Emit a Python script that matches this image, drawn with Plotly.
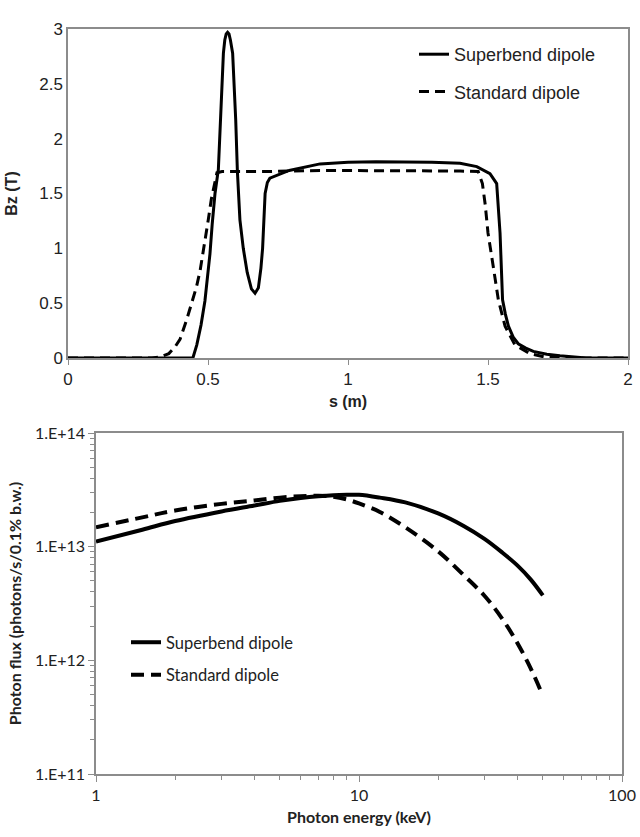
import plotly.graph_objects as go

# ---- Top panel: Bz along s ----
s_super = [0, 0.44, 0.446, 0.46, 0.475, 0.489, 0.50, 0.507, 0.515, 0.525, 0.537, 0.545, 0.555, 0.560,
           0.565, 0.570, 0.575, 0.580, 0.588, 0.599, 0.605, 0.614, 0.626, 0.64, 0.655, 0.668, 0.68,
           0.689, 0.695, 0.704, 0.712, 0.721, 0.75, 0.79, 0.9, 1.0, 1.1, 1.2, 1.3, 1.4, 1.46, 1.507,
           1.531, 1.543, 1.552, 1.562, 1.573, 1.59, 1.608, 1.635, 1.662, 1.71, 1.757, 1.85, 2.0]
bz_super = [0, 0, 0, 0.12, 0.3, 0.52, 0.75, 0.95, 1.22, 1.5, 1.72, 2.17, 2.78, 2.9,
            2.955, 2.97, 2.955, 2.9, 2.78, 2.17, 1.7, 1.26, 1.0, 0.78, 0.63, 0.59, 0.64,
            0.82, 1.0, 1.5, 1.6, 1.64, 1.67, 1.71, 1.77, 1.785, 1.79, 1.79, 1.785, 1.775, 1.745, 1.68,
            1.59, 1.14, 0.53, 0.4, 0.29, 0.19, 0.13, 0.09, 0.06, 0.035, 0.02, 0.0, 0.0]

s_std = [0, 0.30, 0.33, 0.36, 0.382, 0.40, 0.424, 0.44, 0.459, 0.472, 0.483, 0.492, 0.501, 0.512,
         0.525, 0.532, 0.55, 0.7, 0.9, 1.0, 1.2, 1.4, 1.465, 1.48, 1.49, 1.5, 1.519, 1.537, 1.561,
         1.596, 1.65, 1.70, 1.8, 2.0]
bz_std = [0, 0, 0.01, 0.04, 0.10, 0.17, 0.35, 0.48, 0.65, 0.8, 0.96, 1.1, 1.26, 1.45,
          1.62, 1.69, 1.70, 1.70, 1.71, 1.71, 1.71, 1.705, 1.70, 1.59, 1.4, 1.14, 0.83, 0.53, 0.29,
          0.12, 0.04, 0.01, 0, 0]

# ---- Bottom panel: photon flux vs energy ----
energy = [1, 1.5, 2, 3, 4, 5, 6, 7, 8, 9, 10, 12, 15, 20, 25, 30, 35, 40, 45, 50]
flux_super = [1.11e13, 1.41e13, 1.68e13, 2.04e13, 2.30e13, 2.53e13, 2.68e13, 2.78e13, 2.84e13,
              2.86e13, 2.86e13, 2.70e13, 2.45e13, 1.96e13, 1.52e13, 1.17e13, 8.9e12, 6.84e12,
              5.13e12, 3.73e12]
flux_std = [1.48e13, 1.81e13, 2.08e13, 2.38e13, 2.55e13, 2.70e13, 2.78e13, 2.80e13, 2.75e13,
            2.60e13, 2.40e13, 2.02e13, 1.48e13, 9.1e12, 5.62e12, 3.70e12, 2.33e12, 1.42e12,
            8.47e11, 4.89e11]

W, H = 640, 837
def px(x):
    return x / W
def py(y):
    return 1 - y / H

fig = go.Figure()
fig.add_trace(go.Scatter(x=s_super, y=bz_super, mode='lines', name='Superbend dipole',
                         line=dict(color='black', width=3), xaxis='x', yaxis='y',
                         legend='legend', legendgroup='a'))
fig.add_trace(go.Scatter(x=s_std, y=bz_std, mode='lines', name='Standard dipole',
                         line=dict(color='black', width=3, dash='10px,6px'), xaxis='x', yaxis='y',
                         legend='legend', legendgroup='b'))
fig.add_trace(go.Scatter(x=energy, y=flux_super, mode='lines', name='Superbend dipole',
                         line=dict(color='black', width=4, shape='spline', smoothing=1.0),
                         xaxis='x2', yaxis='y2', legend='legend2', legendgroup='c'))
fig.add_trace(go.Scatter(x=energy, y=flux_std, mode='lines', name='Standard dipole',
                         line=dict(color='black', width=4, shape='spline', smoothing=1.0, dash='13px,7px'),
                         xaxis='x2', yaxis='y2', legend='legend2', legendgroup='d'))

axcol = '#8c8c8c'
topfam = 'Liberation Sans, Arial, sans-serif'
botfam = 'Lato, Open Sans, sans-serif'
topfont = dict(family=topfam, size=17, color='#222')
botfont = dict(family=botfam, size=16, color='#222')

minor_x = [v * d for d in (1, 10) for v in range(2, 10)]
minor_y = [v * d for d in (1e11, 1e12, 1e13) for v in range(2, 10)]

fig.update_layout(
    width=W, height=H,
    margin=dict(l=0, r=0, t=0, b=0, autoexpand=False),
    paper_bgcolor='white', plot_bgcolor='white',
    showlegend=True,
    xaxis=dict(domain=[px(68), px(628)], range=[0, 2], tickvals=[0, 0.5, 1, 1.5, 2],
               ticktext=['0', '0.5', '1', '1.5', '2'], automargin=False,
               showline=True, mirror=True, linecolor=axcol, linewidth=1.5,
               ticks='outside', ticklen=5, tickcolor=axcol, showgrid=False, zeroline=False,
               tickfont=topfont, anchor='y',
               title=dict(text='<b>s (m)</b>', font=dict(family=topfam, size=16, color='#222'), standoff=8)),
    yaxis=dict(domain=[py(358), py(29)], range=[0, 3], tickvals=[0, 0.5, 1, 1.5, 2, 2.5, 3],
               ticktext=['0', '0.5', '1', '1.5', '2', '2.5', '3'], automargin=False,
               showline=True, mirror=True, linecolor=axcol, linewidth=1.5,
               ticks='', showgrid=False, zeroline=False, tickfont=topfont, anchor='x',
               title=dict(text='<b>Bz (T)</b>', font=dict(family=topfam, size=16, color='#222'), standoff=18)),
    xaxis2=dict(domain=[px(96), px(622)], type='log', range=[0, 2], tickvals=[1, 10, 100],
                ticktext=['1', '10', '100'], automargin=False,
                showline=True, mirror=True, linecolor=axcol, linewidth=1.5,
                ticks='outside', ticklen=6, tickcolor=axcol, showgrid=False, zeroline=False,
                minor=dict(tickvals=minor_x, ticks='outside', ticklen=4, tickcolor=axcol, showgrid=False),
                tickfont=botfont, anchor='y2',
                title=dict(text='<b>Photon energy (keV)</b>', font=dict(family=botfam, size=16, color='#222'), standoff=9)),
    yaxis2=dict(domain=[py(774), py(433)], type='log', range=[11, 14],
                tickvals=[1e11, 1e12, 1e13, 1e14],
                ticktext=['1.E+11', '1.E+12', '1.E+13', '1.E+14'], automargin=False,
                showline=True, mirror=True, linecolor=axcol, linewidth=1.5,
                ticks='outside', ticklen=6, tickcolor=axcol, showgrid=False, zeroline=False,
                minor=dict(tickvals=minor_y, ticks='outside', ticklen=4, tickcolor=axcol, showgrid=False),
                tickfont=botfont, anchor='x2',
                title=dict(text='<b>Photon flux (photons/s/0.1% b.w.)</b>', font=dict(family=botfam, size=16, color='#222'), standoff=9)),
    legend=dict(x=px(414), y=py(36), xanchor='left', yanchor='top', bgcolor='rgba(0,0,0,0)',
                font=dict(family=topfam, size=18, color='#222'),
                tracegroupgap=11, itemwidth=30),
    legend2=dict(x=px(126), y=py(625), xanchor='left', yanchor='top', bgcolor='rgba(0,0,0,0)',
                 font=dict(family=botfam, size=16.5, color='#222'),
                 tracegroupgap=8, itemwidth=30),
)

fig.write_html('out.html', config={'displayModeBar': False},
               post_script="document.body.style.margin='0px';document.body.style.overflow='hidden';")
